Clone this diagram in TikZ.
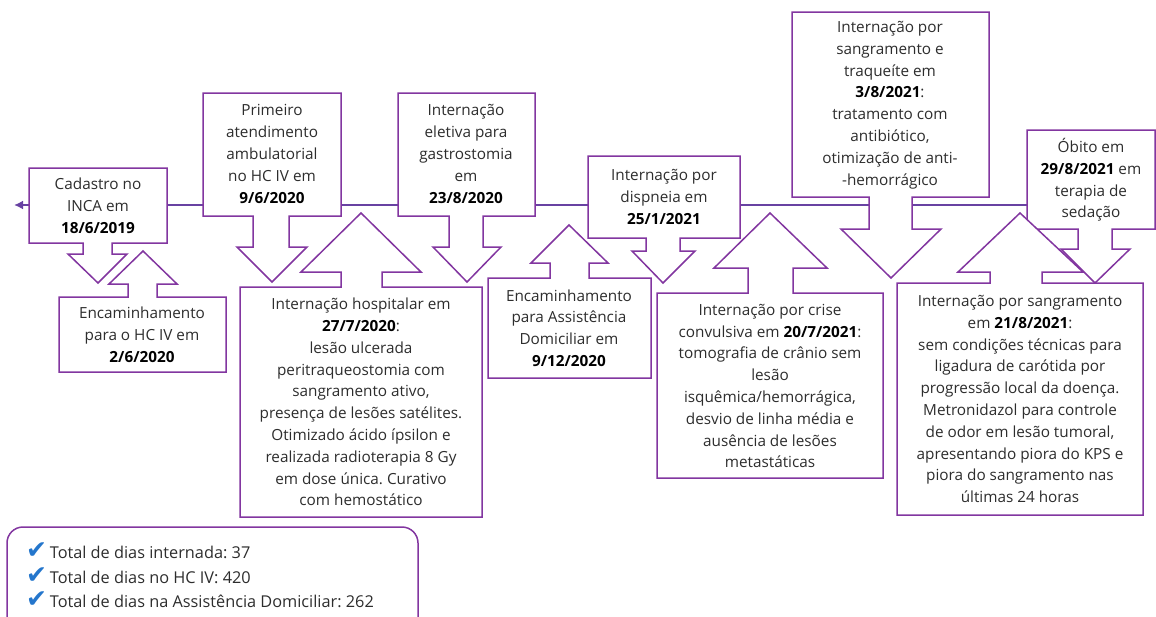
\documentclass[tikz,border=0pt]{standalone}
\usepackage{fontspec}
\setmainfont{Open Sans}
\newfontfamily\checkfont{DejaVu Sans}
\usetikzlibrary{arrows.meta}
\frenchspacing
\definecolor{boxpurple}{RGB}{130,54,160}
\definecolor{linepurple}{RGB}{104,66,162}
\definecolor{textgray}{RGB}{45,45,45}
\definecolor{checkblue}{RGB}{36,118,204}
\newcommand{\dte}[1]{\textcolor{black}{\textbf{#1}}}
\newcommand{\chk}{\textcolor{checkblue}{\fontsize{25}{25}\checkfont\char"2714}}

\begin{document}
\begin{tikzpicture}[x=1pt,y=-1pt,every node/.style={font=\fontsize{15.3}{21.8}\selectfont,text=textgray},
  callout/.style={draw=boxpurple,fill=white,line width=1.5pt,line join=miter},
  lbl/.style={align=center,inner sep=0pt},
  legitem/.style={anchor=west,inner sep=0pt,font=\fontsize{16.3}{20}\selectfont}]
\useasboundingbox (0,0) rectangle (1156,616);
% linha do tempo
\coordinate (tlend) at (1030,205); \coordinate (tlstart) at (14,205);
\draw[linepurple,line width=2pt,-{Latex[length=9pt,width=9pt]}] (tlend) -- (tlstart);
% chamadas de cima (seta para baixo)
\draw[callout] (29,168)--(167,168)--(167,243)--(112,243)--(112,254)--(127,254)--(98,283)--(68,254)--(83,254)--(83,243)--(29,243)--cycle;
\draw[callout] (203,93)--(341,93)--(341,216)--(289,216)--(289,247)--(307,247)--(272,282)--(237,247)--(253,247)--(253,216)--(203,216)--cycle;
\draw[callout] (398,93)--(535,93)--(535,216)--(483,216)--(483,247)--(501,247)--(467,282)--(433,247)--(449,247)--(449,216)--(398,216)--cycle;
\draw[callout] (588,156)--(740,156)--(740,238)--(680,238)--(680,251)--(695,251)--(663,283)--(632,251)--(646,251)--(646,238)--(588,238)--cycle;
\draw[callout] (792,12)--(989,12)--(989,197)--(912,197)--(912,229)--(941,229)--(891,278)--(841,229)--(869,229)--(869,197)--(792,197)--cycle;
\draw[callout] (1027,130)--(1155,130)--(1155,229)--(1112,229)--(1112,249)--(1130,249)--(1095,283)--(1061,249)--(1078,249)--(1078,229)--(1027,229)--cycle;
% chamadas de baixo (seta para cima)
\draw[callout] (59,372)--(59,297)--(128,297)--(128,284)--(109,284)--(143,251)--(177,284)--(157,284)--(157,297)--(226,297)--(226,372)--cycle;
\draw[callout] (240,517)--(240,287)--(341,287)--(341,272)--(301,272)--(361,213)--(421,272)--(382,272)--(382,287)--(482,287)--(482,517)--cycle;
\draw[callout] (488,378)--(488,278)--(550,278)--(550,263)--(531,263)--(569,225)--(608,263)--(589,263)--(589,278)--(651,278)--(651,378)--cycle;
\draw[callout] (657,478)--(657,293)--(748,293)--(748,268)--(714,268)--(770,213)--(827,268)--(793,268)--(793,293)--(883,293)--(883,478)--cycle;
\draw[callout] (897,515)--(897,283)--(990,283)--(990,272)--(958,272)--(1020,213)--(1083,272)--(1042,272)--(1042,283)--(1143,283)--(1143,515)--cycle;
% textos
\node[lbl] (cadastro) at (98,206) {Cadastro no\\INCA em\\\dte{18/6/2019}};
\node[lbl] (primeiro) at (272,154) {Primeiro\\atendimento\\ambulatorial\\no HC IV em\\\dte{9/6/2020}};
\node[lbl] (eletiva) at (466,154) {Internação\\eletiva para\\gastrostomia\\em\\\dte{23/8/2020}};
\node[lbl] (dispneia) at (664,197) {Internação por\\dispneia em\\\dte{25/1/2021}};
\node[lbl] (traqueite) at (890,105) {Internação por\\sangramento e\\traqueíte em\\\dte{3/8/2021}:\\tratamento com\\antibiótico,\\otimização de anti-\\-hemorrágico};
\node[lbl] (obito) at (1091,180) {Óbito em\\\dte{29/8/2021} em\\terapia de\\sedação};
\node[lbl] (encHC) at (142,335) {Encaminhamento\\para o HC IV em\\\dte{2/6/2020}};
\node[lbl] (hospital) at (361,402) {Internação hospitalar em\\\dte{27/7/2020}:\\lesão ulcerada\\peritraqueostomia com\\sangramento ativo,\\presença de lesões satélites.\\Otimizado ácido ípsilon e\\realizada radioterapia 8 Gy\\em dose única. Curativo\\com hemostático};
\node[lbl] (encAD) at (569,328) {Encaminhamento\\para Assistência\\Domiciliar em\\\dte{9/12/2020}};
\node[lbl] (crise) at (770,386) {Internação por crise\\convulsiva em \dte{20/7/2021}:\\tomografia de crânio sem\\lesão\\isquêmica/hemorrágica,\\desvio de linha média e\\ausência de lesões\\metastáticas};
\node[lbl] (sangramento) at (1020,399) {Internação por sangramento\\em \dte{21/8/2021}:\\sem condições técnicas para\\ligadura de carótida por\\progressão local da doença.\\Metronidazol para controle\\de odor em lesão tumoral,\\apresentando piora do KPS e\\piora do sangramento nas\\últimas 24 horas};
% resumo
\draw[boxpurple,line width=1.5pt,rounded corners=16pt] (7,527) rectangle (418,645);
\node[legitem] (leg1) at (26,551) {\chk\,Total de dias internada: 37};
\node[legitem] (leg2) at (26,576) {\chk\,Total de dias no HC IV: 420};
\node[legitem] (leg3) at (26,600) {\chk\,Total de dias na Assistência Domiciliar: 262};
\end{tikzpicture}
\end{document}
